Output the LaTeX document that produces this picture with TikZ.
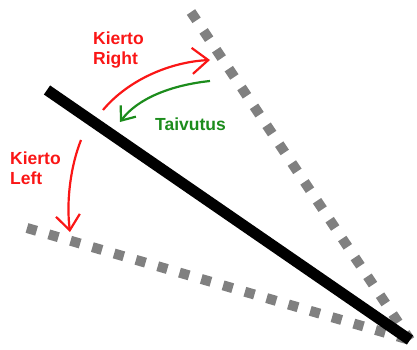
\documentclass[tikz,border=0pt]{standalone}
\usepackage{fontspec}
\setmainfont{Liberation Sans}
\usetikzlibrary{arrows.meta}
\definecolor{kred}{RGB}{250,22,22}
\definecolor{kgreen}{RGB}{28,140,28}
\definecolor{kgray}{RGB}{128,128,128}

\begin{document}
\begin{tikzpicture}[x=1pt, y=-1pt,
    label/.style={inner sep=0pt, anchor=north west, align=left, font=\fontsize{17.5}{20}\selectfont\bfseries},
    dots/.style={kgray, line width=10pt, dash pattern=on 10pt off 12.7pt},
    turn/.style={line width=2.2pt}]
    \path[use as bounding box] (0,0) rectangle (417,350);

    % lines
    \coordinate (apex) at (410,340);
    \coordinate (up) at (191,12);
    \coordinate (low) at (27,228);
    \coordinate (bar) at (47,90);
    \draw[dots] (up) -- (apex);
    \draw[dots] (low) -- (apex);
    \draw[line width=11pt] (bar) -- (apex);

    % labels
    \node[label, kred] (right) at (93,32) {Kierto\\Right};
    \node[label, kgreen] (taiv) at (155,118) {Taivutus};
    \node[label, kred] (left) at (10,152) {Kierto\\Left};

    % arrows
    \coordinate (r1) at (103,110);
    \coordinate (r2) at (210,60);
    \coordinate (g1) at (210,81);
    \coordinate (g2) at (120,122);
    \coordinate (l1) at (81,140);
    \coordinate (l2) at (70,232);
    \draw[turn, kred, -{Straight Barb[length=16pt, width=26pt]}]
        (r1) .. controls (128,80) and (170,62) .. (r2);
    \draw[turn, kgreen, -{Straight Barb[length=12pt, width=19pt]}]
        (g1) .. controls (172,85) and (138,98) .. (g2);
    \draw[turn, kred, -{Straight Barb[length=15pt, width=24pt]}]
        (l1) .. controls (71,165) and (66,200) .. (l2);
\end{tikzpicture}
\end{document}
